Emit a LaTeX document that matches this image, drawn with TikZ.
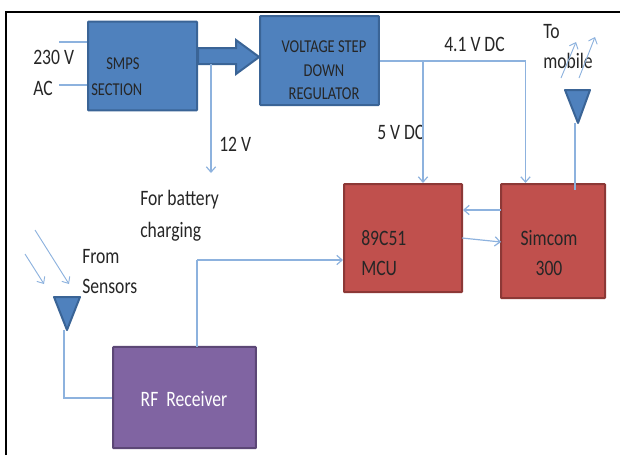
\documentclass[tikz,border=0pt]{standalone}
\usepackage{fontspec}
\setmainfont[FakeStretch=.8]{Carlito}
\usetikzlibrary{arrows.meta,calc,positioning}
\definecolor{bluefill}{HTML}{4F81BD}
\definecolor{blueedge}{HTML}{3A6496}
\definecolor{redfill}{HTML}{C0504D}
\definecolor{rededge}{HTML}{8C3836}
\definecolor{purplefill}{HTML}{8064A2}
\definecolor{purpleedge}{HTML}{5C4776}
\definecolor{wire}{HTML}{8DB2DE}
\definecolor{ink}{HTML}{262626}
\tikzset{
 blk/.style={draw,line width=1.5pt,inner sep=0pt,rounded corners=.5pt},
 bluebox/.style={blk,fill=bluefill,draw=blueedge},
 redbox/.style={blk,fill=redfill,draw=rededge},
 purplebox/.style={blk,fill=purplefill,draw=purpleedge},
 lbl/.style={text=ink,font=\fontsize{16.5}{22.5}\selectfont,align=left,inner sep=0pt},
 smalllbl/.style={lbl,font=\fontsize{13.6}{17.7}\selectfont},
 wirearrow/.style={wire,line width=.9pt,-{Straight Barb[length=4pt,width=7pt]}},
 wireline/.style={wire,line width=.9pt},
 rayarrow/.style={wirearrow,line width=.7pt},
 aerial/.style={fill=bluefill,draw=blueedge,line width=1.5pt,line join=round}
}
\begin{document}
\begin{tikzpicture}[x=.75pt,y=-.75pt]
 \useasboundingbox(0,0)rectangle(620,455);
 \draw[black,line width=1.5pt](6,455)--(6,12)--(620,12);
 % blocks
 \node[bluebox,minimum width=81.75pt,minimum height=66.5pt](smps)at(142.5,66){};
 \node[bluebox,minimum width=89pt,minimum height=66.75pt](reg)at(319.5,60.5){};
 \node[redbox,minimum width=88.5pt,minimum height=81pt](mcu)at(403,238){};
 \node[redbox,minimum width=78pt,minimum height=85.5pt](sim)at(553,241){};
 \node[purplebox,minimum width=107pt,minimum height=76pt](rf)at(184.5,397.5){};
 % block labels
 \node[anchor=west,smalllbl](smpsa)at(106,64){SMPS};
 \node[anchor=west,smalllbl](smpsb)at(91,90){SECTION};
 \node[smalllbl,align=center](regt)at(324,70.5){VOLTAGE STEP\\DOWN\\REGULATOR};
 \node[anchor=west,lbl](mcut)at(361,253){89C51\\MCU};
 \node[lbl,align=center](simt)at(549,253){Simcom\\300};
 \node[lbl,text=white](rft)at(184,399){RF~ Receiver};
 % free labels
 \node[anchor=west,lbl,font=\fontsize{16.5}{23.2}\selectfont](ac)at(33,72.5){230 V\\AC};
 \node[anchor=west,lbl](twelve)at(219,144){12 V};
 \node[anchor=west,lbl,font=\fontsize{16.5}{24}\selectfont](batt)at(140,216){For battery\\charging};
 \node[anchor=west,lbl](fromsens)at(82,272){From\\Sensors};
 \node[anchor=west,lbl](fourv)at(444,44){4.1 V DC};
 \node[anchor=west,lbl](fivev)at(377,132){5 V DC};
 \node[anchor=west,lbl](tomob)at(543,47){To\\mobile};
 % thick arrow
 \fill[bluefill,draw=blueedge,line width=1.5pt,line join=miter](smps.east|-0,48)--(236,48)--(236,40)--(reg.west|-0,57)--(236,74)--(236,64)--(smps.east|-0,64)--cycle;
 % aerials
 \coordinate(txa)at(565,90);\coordinate(txb)at(590,90);\coordinate(txc)at(578,123);
 \draw[aerial](txa)--(txb)--(txc)--cycle;
 \coordinate(rxa)at(54,297);\coordinate(rxb)at(80,297);\coordinate(rxc)at(67,330);
 \draw[aerial](rxa)--(rxb)--(rxc)--cycle;
 % wires
 \coordinate(acup)at(59,42);\coordinate(aclow)at(59,85);
 \draw[wireline](acup)--(acup-|smps.west);
 \draw[wireline](aclow)--(aclow-|smps.west);
 \coordinate(chgtop)at(211,64);\coordinate(chg)at(211,173);
 \draw[wirearrow](chgtop)--(chg);
 \coordinate(branch)at(423,61);\coordinate(corner)at(525.5,61);
 \draw[wireline](branch-|reg.east)--(corner);
 \draw[wirearrow](branch)--(branch|-mcu.north);
 \draw[wirearrow](corner)--(corner|-sim.north);
 \coordinate(simfeed)at(575,123);\coordinate(simtop)at(575,190);
 \draw[wireline](simfeed)--(simtop);
 \coordinate(linka)at(501,210);\coordinate(linkb)at(462,238);\coordinate(linkc)at(501,242);
 \draw[wirearrow](linka)--(linka-|mcu.east);
 \draw[wirearrow](linkb)--(linkc);
 \coordinate(rfup)at(197,347);\coordinate(rfcorner)at(197,260);
 \draw[wireline](rfup)--(rfcorner);
 \draw[wirearrow](rfcorner)--(rfcorner-|mcu.west);
 \coordinate(rxfeed)at(64,330);\coordinate(rfin)at(64,398);
 \draw[wireline](rxfeed)--(rfin)--(rfin-|rf.west);
 % radio arrows
 \coordinate(rayaa)at(35,230);\coordinate(rayab)at(69,284);
 \coordinate(rayba)at(25,254);\coordinate(raybb)at(44,284);
 \draw[rayarrow](rayaa)--(rayab);
 \draw[rayarrow](rayba)--(raybb);
 \coordinate(rayca)at(561,78);\coordinate(raycb)at(576,42);
 \coordinate(rayda)at(579,78);\coordinate(raydb)at(595,37);
 \draw[rayarrow](rayca)--(raycb);
 \draw[rayarrow](rayda)--(raydb);
\end{tikzpicture}
\end{document}
